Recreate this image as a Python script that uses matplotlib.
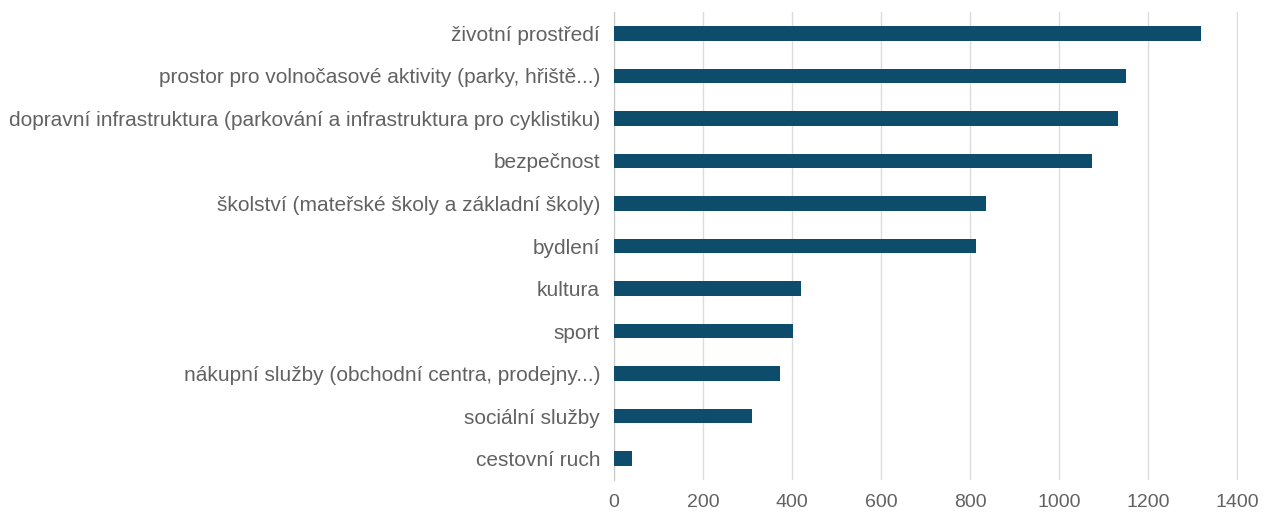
import matplotlib
matplotlib.use('Agg')
import matplotlib.pyplot as plt

categories = [
    'životní prostředí',
    'prostor pro volnočasové aktivity (parky, hřiště...)',
    'dopravní infrastruktura (parkování a infrastruktura pro cyklistiku)',
    'bezpečnost',
    'školství (mateřské školy a základní školy)',
    'bydlení',
    'kultura',
    'sport',
    'nákupní služby (obchodní centra, prodejny...)',
    'sociální služby',
    'cestovní ruch',
]
counts = [1318, 1150, 1133, 1074, 836, 814, 420, 403, 374, 310, 40]
xticks = [0, 200, 400, 600, 800, 1000, 1200, 1400]

plt.rcParams['font.family'] = ['Liberation Sans', 'DejaVu Sans']

fig = plt.figure(figsize=(12.67, 5.14), dpi=100)
ax = fig.add_axes([614 / 1267, 34 / 514, 624 / 1267, 468 / 514])

pos = list(range(len(categories)))[::-1]
ax.barh(pos, counts, height=0.34, color='#0e4c6c', zorder=3)

ax.set_xlim(0, 1402)
ax.set_ylim(-0.5, len(categories) - 0.5)
ax.set_xticks(xticks)
ax.set_xticklabels([str(t) for t in xticks])
ax.set_yticks(pos)
ax.set_yticklabels(categories)

ax.grid(axis='x', color='#dcdcdc', linewidth=1, zorder=0)
for s in ['top', 'right', 'bottom']:
    ax.spines[s].set_visible(False)
ax.spines['left'].set_color('#c8c8c8')
ax.tick_params(axis='y', length=0, labelsize=15, colors='#626262', pad=10)
ax.tick_params(axis='x', length=0, labelsize=14, colors='#626262', pad=10)

fig.savefig('out.png', dpi=100)
